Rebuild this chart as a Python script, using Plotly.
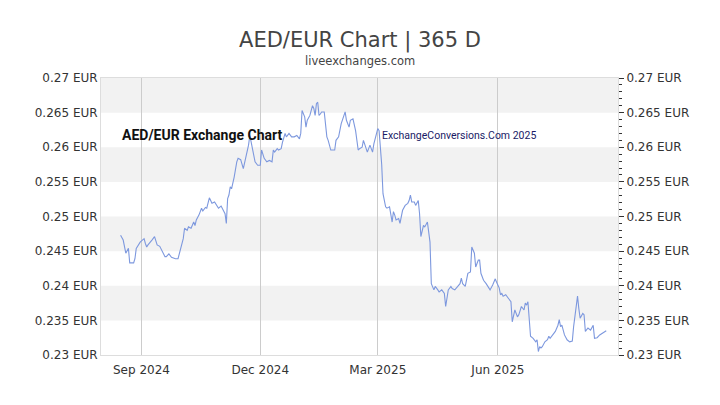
"""
AED/EUR 365 day line chart, rebuilt with plotly
"""

import plotly.graph_objs as go

# daily-ish AED/EUR rates, grouped by month
dates = [
    "2024-08-16", "2024-08-18", "2024-08-20", "2024-08-22", "2024-08-23", "2024-08-26", "2024-08-27", "2024-08-28", "2024-08-31",
    "2024-09-03", "2024-09-04", "2024-09-05", "2024-09-06", "2024-09-08", "2024-09-09", "2024-09-11", "2024-09-13", "2024-09-15",
    "2024-09-17", "2024-09-19", "2024-09-20", "2024-09-22", "2024-09-24", "2024-09-25", "2024-09-27", "2024-09-29",
    "2024-10-01", "2024-10-03", "2024-10-04", "2024-10-06", "2024-10-07", "2024-10-09", "2024-10-11", "2024-10-12", "2024-10-13",
    "2024-10-15", "2024-10-17", "2024-10-18", "2024-10-20", "2024-10-21", "2024-10-23", "2024-10-25", "2024-10-27", "2024-10-29", "2024-10-30",
    "2024-11-01", "2024-11-03", "2024-11-04", "2024-11-05", "2024-11-06", "2024-11-07", "2024-11-08", "2024-11-09", "2024-11-11",
    "2024-11-13", "2024-11-14", "2024-11-16", "2024-11-18", "2024-11-20", "2024-11-22", "2024-11-23", "2024-11-25", "2024-11-27", "2024-11-29",
    "2024-12-01", "2024-12-02", "2024-12-04", "2024-12-06", "2024-12-08", "2024-12-10", "2024-12-11", "2024-12-12", "2024-12-14",
    "2024-12-15", "2024-12-17", "2024-12-18", "2024-12-20", "2024-12-21", "2024-12-23", "2024-12-25", "2024-12-27", "2024-12-29", "2024-12-31",
    "2025-01-01", "2025-01-02", "2025-01-04", "2025-01-05", "2025-01-06", "2025-01-08", "2025-01-10", "2025-01-11", "2025-01-12",
    "2025-01-13", "2025-01-14", "2025-01-15", "2025-01-16", "2025-01-17", "2025-01-19", "2025-01-21", "2025-01-22", "2025-01-24",
    "2025-01-25", "2025-01-27", "2025-01-28", "2025-01-30",
    "2025-02-01", "2025-02-03", "2025-02-04", "2025-02-05", "2025-02-07", "2025-02-08", "2025-02-10", "2025-02-12", "2025-02-14",
    "2025-02-15", "2025-02-17", "2025-02-18", "2025-02-19", "2025-02-21", "2025-02-23", "2025-02-24", "2025-02-25", "2025-02-26", "2025-02-28",
    "2025-03-01", "2025-03-02", "2025-03-04", "2025-03-05", "2025-03-07", "2025-03-08", "2025-03-10", "2025-03-12", "2025-03-13",
    "2025-03-14", "2025-03-15", "2025-03-17", "2025-03-18", "2025-03-20", "2025-03-22", "2025-03-24", "2025-03-25", "2025-03-26",
    "2025-03-27", "2025-03-29", "2025-03-30",
    "2025-04-01", "2025-04-02", "2025-04-03", "2025-04-05", "2025-04-06", "2025-04-08", "2025-04-10", "2025-04-11", "2025-04-13",
    "2025-04-14", "2025-04-16", "2025-04-17", "2025-04-19", "2025-04-21", "2025-04-22", "2025-04-24", "2025-04-26", "2025-04-27", "2025-04-29",
    "2025-05-01", "2025-05-03", "2025-05-04", "2025-05-05", "2025-05-07", "2025-05-09", "2025-05-11", "2025-05-12", "2025-05-14", "2025-05-15",
    "2025-05-17", "2025-05-18", "2025-05-19", "2025-05-21", "2025-05-23", "2025-05-25", "2025-05-26", "2025-05-28", "2025-05-30", "2025-05-31",
    "2025-06-02", "2025-06-03", "2025-06-04", "2025-06-05", "2025-06-07", "2025-06-09", "2025-06-11", "2025-06-12", "2025-06-14", "2025-06-16",
    "2025-06-17", "2025-06-19", "2025-06-21", "2025-06-22", "2025-06-23", "2025-06-24", "2025-06-25", "2025-06-26", "2025-06-28", "2025-06-30",
    "2025-07-01", "2025-07-02", "2025-07-03", "2025-07-04", "2025-07-05", "2025-07-07", "2025-07-09", "2025-07-10", "2025-07-11", "2025-07-13",
    "2025-07-14", "2025-07-15", "2025-07-17", "2025-07-18", "2025-07-19", "2025-07-20", "2025-07-22", "2025-07-24", "2025-07-26", "2025-07-28",
    "2025-07-29", "2025-07-30", "2025-07-31",
    "2025-08-01", "2025-08-02", "2025-08-03", "2025-08-05", "2025-08-06", "2025-08-07", "2025-08-09", "2025-08-11", "2025-08-12",
    "2025-08-13", "2025-08-14", "2025-08-16", "2025-08-18", "2025-08-21", "2025-08-23",
]

rates = [
    0.2473, 0.2466, 0.2447, 0.2454, 0.2433, 0.2433, 0.2439, 0.2454, 0.2463,
    0.2468, 0.2461, 0.2456, 0.2459, 0.2463, 0.2466, 0.2471, 0.2459, 0.2457,
    0.2449, 0.2442, 0.2442, 0.2446, 0.2441, 0.2440, 0.2439, 0.2439,
    0.2456, 0.2468, 0.2483, 0.2480, 0.2485, 0.2483, 0.2492, 0.2487, 0.2495,
    0.2502, 0.2512, 0.2508, 0.2513, 0.2512, 0.2527, 0.2519, 0.2521, 0.2516, 0.2512,
    0.2515, 0.2509, 0.2504, 0.2490, 0.2526, 0.2531, 0.2543, 0.2540, 0.2557,
    0.2579, 0.2584, 0.2582, 0.2569, 0.2586, 0.2603, 0.2617, 0.2600, 0.2579, 0.2574,
    0.2574, 0.2596, 0.2584, 0.2579, 0.2581, 0.2579, 0.2596, 0.2593, 0.2598,
    0.2596, 0.2598, 0.2607, 0.2620, 0.2615, 0.2620, 0.2615, 0.2615, 0.2617, 0.2612,
    0.2620, 0.2653, 0.2644, 0.2629, 0.2639, 0.2646, 0.2660, 0.2656, 0.2646,
    0.2663, 0.2665, 0.2646, 0.2648, 0.2651, 0.2651, 0.2615, 0.2610, 0.2596,
    0.2596, 0.2596, 0.2610, 0.2615,
    0.2634, 0.2646, 0.2651, 0.2639, 0.2629, 0.2639, 0.2641, 0.2624, 0.2596,
    0.2598, 0.2600, 0.2610, 0.2603, 0.2593, 0.2603, 0.2596, 0.2593, 0.2605, 0.2620,
    0.2627, 0.2624, 0.2575, 0.2533, 0.2514, 0.2512, 0.2514, 0.2492, 0.2507,
    0.2502, 0.2495, 0.2497, 0.2490, 0.2509, 0.2516, 0.2519, 0.2523, 0.2531,
    0.2521, 0.2521, 0.2516,
    0.2523, 0.2504, 0.2471, 0.2487, 0.2485, 0.2492, 0.2463, 0.2403, 0.2394,
    0.2399, 0.2394, 0.2391, 0.2394, 0.2389, 0.2370, 0.2394, 0.2399, 0.2396, 0.2394,
    0.2399, 0.2403, 0.2411, 0.2403, 0.2399, 0.2418, 0.2420, 0.2456, 0.2447, 0.2427,
    0.2437, 0.2437, 0.2418, 0.2408, 0.2403, 0.2396, 0.2394, 0.2401, 0.2410, 0.2405,
    0.2397, 0.2387, 0.2389, 0.2385, 0.2387, 0.2382, 0.2377, 0.2348, 0.2365, 0.2355,
    0.2358, 0.2370, 0.2365, 0.2375, 0.2372, 0.2377, 0.2351, 0.2327, 0.2324, 0.2319,
    0.2322, 0.2305, 0.2312, 0.2310, 0.2312, 0.2319, 0.2322, 0.2327, 0.2324, 0.2329,
    0.2331, 0.2334, 0.2343, 0.2351, 0.2341, 0.2343, 0.2329, 0.2322, 0.2319, 0.2320,
    0.2341, 0.2358, 0.2377,
    0.2385, 0.2367, 0.2353, 0.2360, 0.2358, 0.2334, 0.2339, 0.2336, 0.2339,
    0.2343, 0.2324, 0.2325, 0.2329, 0.2332, 0.2335,
]

y_ticks = [0.23, 0.235, 0.24, 0.245, 0.25, 0.255, 0.26, 0.265, 0.27]
y_labels = ["0.23 EUR", "0.235 EUR", "0.24 EUR", "0.245 EUR", "0.25 EUR",
            "0.255 EUR", "0.26 EUR", "0.265 EUR", "0.27 EUR"]
x_ticks = ["2024-09-01", "2024-12-01", "2025-03-01", "2025-06-01"]
x_labels = ["Sep 2024", "Dec 2024", "Mar 2025", "Jun 2025"]
x_range = ["2024-08-01", "2025-09-01"]
# lower edges of the grey bands
band_lows = [0.235, 0.245, 0.255, 0.265]

assert len(dates) == len(rates)

FONT = "DejaVu Sans"
TICKFONT = dict(family=FONT, size=12, color="#333333")

fig = go.Figure()
fig.add_trace(go.Scatter(x=dates, y=rates, mode="lines",
                         line=dict(color="#7d98de", width=1.1),
                         hoverinfo="skip"))
# invisible copy so the right hand axis gets drawn
fig.add_trace(go.Scatter(x=dates, y=rates, mode="lines", yaxis="y2",
                         line=dict(width=0), opacity=0, hoverinfo="skip"))

for low in band_lows:
    fig.add_shape(type="rect", xref="x domain", yref="y", x0=0, x1=1,
                  y0=low, y1=low + 0.005, fillcolor="#f2f2f2",
                  line=dict(width=0), layer="below")

# the page body adds an 8px offset, so margins are trimmed by 8 on top/left
fig.update_layout(
    width=720, height=405,
    margin=dict(l=93, r=110, t=70, b=58),
    paper_bgcolor="white", plot_bgcolor="white",
    showlegend=False,
    title=dict(text="AED/EUR Chart | 365 D", x=0.5 - 8 / 720, xanchor="center",
               y=1 - 32 / 405, yanchor="middle",
               font=dict(family=FONT, size=21, color="#444444")),
    xaxis=dict(type="date", range=x_range, tickvals=x_ticks, ticktext=x_labels,
               showgrid=True, gridcolor="#cccccc", gridwidth=1,
               showline=True, linecolor="#dddddd", mirror=True,
               ticks="", ticklabelstandoff=4, tickfont=TICKFONT,
               zeroline=False, automargin=False),
    yaxis=dict(range=[0.23, 0.27], tickvals=y_ticks, ticktext=y_labels,
               showgrid=False, zeroline=False, showline=True,
               linecolor="#dddddd", mirror=True, ticks="",
               tickfont=TICKFONT, automargin=False),
    yaxis2=dict(range=[0.23, 0.27], overlaying="y", side="right",
                tickvals=y_ticks, ticktext=y_labels, showgrid=False,
                zeroline=False, ticks="outside", ticklen=5, tickcolor="#333333",
                minor=dict(tickmode="linear", tick0=0.23, dtick=0.001,
                           ticks="outside", ticklen=3, tickcolor="#333333"),
                tickfont=TICKFONT, automargin=False),
)

fig.add_annotation(text="liveexchanges.com", xref="paper", yref="paper",
                   x=0.5, y=1, yanchor="bottom", yshift=8, showarrow=False,
                   font=dict(family=FONT, size=11.5, color="#444444"))
fig.add_annotation(text="<b>AED/EUR Exchange Chart</b>", xref="paper", yref="paper",
                   x=0.036, y=0.793, xanchor="left", yanchor="middle",
                   showarrow=False, font=dict(family="Roboto", size=14, color="#111111"))
fig.add_annotation(text="ExchangeConversions.Com 2025", xref="paper", yref="paper",
                   x=0.539, y=0.793, xanchor="left", yanchor="middle",
                   showarrow=False, font=dict(family="Roboto", size=10.5, color="#1a1a66"))

fig.write_html("out.html")
